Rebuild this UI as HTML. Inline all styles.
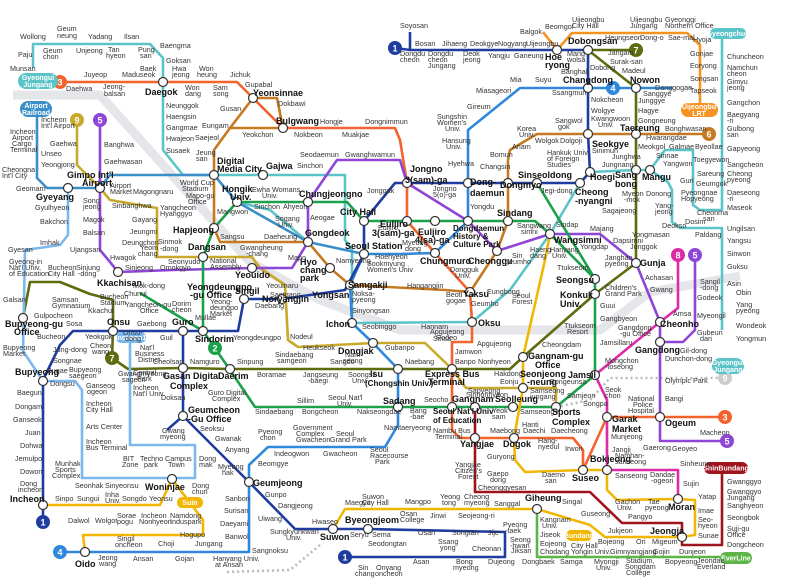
<!DOCTYPE html>
<html><head><meta charset="utf-8"><style>
html,body{margin:0;padding:0;background:#fff;width:800px;height:588px;overflow:hidden}
svg{display:block}
text{font-family:"Liberation Sans",sans-serif;fill:#333;font-size:7.2px}
.b{font-weight:bold;font-size:9px;fill:#111}
.w{fill:#fff;font-weight:bold;font-size:7px;text-anchor:middle}
.n{fill:#fff;font-weight:bold;font-size:9px;text-anchor:middle}
polyline{fill:none;stroke-width:2.6;stroke-linejoin:round}
.t{fill:#fff;stroke:#333;stroke-width:1.2}
</style></head><body>
<svg width="800" height="588" viewBox="0 0 800 588">
<polyline points="13,95 100,95 250,262 320,300 400,330 600,330 650,292 740,276" style="stroke:#e4e6ea;stroke-width:9"/>
<polyline stroke="#5bc4c8" points="33,68 33,44 150,44 163,58 163,150 183,175 214,175 263,175 345,175 345,240 352,250 352,323 472,322 510,290 550,234 580,183 590,172 636,170 650,170 668,182 672,190 672,222 680,228 722,228 722,330"/>
<polyline stroke="#5bc4c8" points="650,170 665,150 693,150 693,205 700,210 722,210 722,34"/>
<polyline stroke="#5bc4c8" points="237,202 270,210 308,242"/>
<polyline stroke="#3a8fc8" points="37,115 37,178 47,188 68,188 100,188 110,175 214,175 237,202 308,242 364,254"/>
<polyline stroke="#c9a92a" points="77,120 77,165 100,188 110,200 157,208 157,257 252,257 260,268 285,285 288,340 298,347 373,343 425,343 452,369 466,388 523,388 556,388 556,407"/>
<polyline stroke="#bbb" stroke-dasharray="2,3" points="556,407 590,400 610,378 725,378"/>
<polyline stroke="#c57a22" points="709,134 636,134 588,134 537,134 510,150 508,160 508,183 508,221 497,251 470,292 445,290 350,285 330,268 308,242 220,242 214,228 214,150 230,128 253,98 277,98 283,128 230,128"/>
<polyline stroke="#f4632d" points="60,82 163,82 237,82 253,98 283,128 395,128 400,140 407,183 407,221 435,253 470,292 472,322 472,342 452,342 452,369 452,407 452,430 460,438 514,438 573,438 583,450 583,470 607,417 660,417 725,417"/>
<polyline stroke="#2f88dc" points="673,88 636,88 588,88 520,88 468,130 468,183 468,221 435,253 400,254 364,254 350,285 352,323 373,343 398,369 398,407 398,425 385,447 268,447 249,465 249,552 85,552 60,552"/>
<polyline stroke="#8f45d6" points="100,120 100,250 110,262 118,272 173,270 252,268 292,268 308,242 308,202 337,160 400,160 407,183 468,221 497,251 550,234 600,234 636,263 660,322 660,342 660,441 727,441"/>
<polyline stroke="#8f45d6" points="660,342 683,342 695,330 695,255"/>
<polyline stroke="#dd2aa8" points="678,255 678,308 660,322 595,375 607,400 607,417 607,470 678,470 678,499"/>
<polyline stroke="#5f6b0f" points="636,50 588,50 636,88 636,170 636,263 595,294 523,357 510,369 452,369 398,369 230,369 183,368 128,369 112,358 113,331 113,300 90,294 60,282 30,282 23,318"/>
<polyline stroke="#1aa14a" points="364,221 407,221 468,221 508,221 535,221 550,234 595,279 595,375 556,407 513,407 475,407 398,407 255,407 230,370 203,331 203,257 214,228 237,202 308,202 347,202 364,221"/>
<polyline stroke="#1aa14a" points="537,183 595,279"/>
<polyline stroke="#1aa14a" points="203,331 140,293"/>
<polyline stroke="#1f3d9e" points="395,48 410,50 588,50 588,134 590,172 580,183 537,183 468,183 407,183 395,183 364,221 364,254 345,290 282,299 244,299 238,331 203,331 183,331 113,331 73,331 60,345 43,380 43,522"/>
<polyline stroke="#1f3d9e" points="410,50 410,32"/>
<polyline stroke="#1f3d9e" points="183,331 183,416 249,482 295,529 333,529 368,529 505,532 505,557 345,557"/>
<polyline stroke="#1f3d9e" points="183,416 167,430"/>
<polyline stroke="#f2b705" points="550,234 545,260 523,357 523,388 514,438 515,460 525,472 583,470 607,470 607,490 617,500 678,499 695,500 695,535 680,537 605,537 590,525 537,509 345,509 333,529"/>
<polyline stroke="#a0121c" points="475,407 475,492 590,492 622,523 682,523 682,545 722,545 722,468"/>
<polyline stroke="#5db548" points="537,509 537,557 720,557"/>
<polyline stroke="#f79322" points="543,32 557,50 572,33 687,33 700,45 700,108"/>
<polyline stroke="#7ab8ee" points="68,188 68,235 60,245 25,250 23,351 43,381 75,381 82,390 82,478 195,478 195,445 130,445 130,338"/>
<polyline stroke="#f2b705" points="43,505 160,505 172,479 203,520 203,535 83,535 85,552"/>
<polyline stroke="#bbb" stroke-dasharray="2,3" points="320,545 290,570 225,572"/>

<g>
<circle class="t" cx="163" cy="82" r="4.5"/><circle class="t" cx="253" cy="98" r="4.5"/><circle class="t" cx="283" cy="128" r="4.5"/>
<circle class="t" cx="214" cy="175" r="4.5"/><circle class="t" cx="263" cy="175" r="4.5"/><circle class="t" cx="68" cy="188" r="4.5"/>
<circle class="t" cx="100" cy="188" r="4.5"/><circle class="t" cx="237" cy="202" r="4.5"/><circle class="t" cx="308" cy="202" r="4.5"/>
<circle class="t" cx="214" cy="228" r="4.5"/><circle class="t" cx="308" cy="242" r="4.5"/><circle class="t" cx="364" cy="221" r="4.5"/>
<circle class="t" cx="364" cy="254" r="4.5"/><circle class="t" cx="203" cy="257" r="4.5"/><circle class="t" cx="252" cy="268" r="4.5"/>
<circle class="t" cx="330" cy="268" r="4.5"/><circle class="t" cx="350" cy="285" r="4.5"/><circle class="t" cx="118" cy="272" r="4.5"/>
<circle class="t" cx="407" cy="183" r="4.5"/><circle class="t" cx="468" cy="183" r="4.5"/><circle class="t" cx="508" cy="183" r="4.5"/>
<circle class="t" cx="537" cy="183" r="4.5"/><circle class="t" cx="580" cy="183" r="4.5"/><circle class="t" cx="590" cy="172" r="4.5"/>
<circle class="t" cx="407" cy="221" r="4.5"/><circle class="t" cx="435" cy="221" r="4.5"/><circle class="t" cx="468" cy="221" r="4.5"/>
<circle class="t" cx="508" cy="221" r="4.5"/><circle class="t" cx="435" cy="253" r="4.5"/><circle class="t" cx="497" cy="251" r="4.5"/>
<circle class="t" cx="550" cy="234" r="4.5"/><circle class="t" cx="470" cy="292" r="4.5"/><circle class="t" cx="595" cy="279" r="4.5"/>
<circle class="t" cx="595" cy="294" r="4.5"/><circle class="t" cx="636" cy="263" r="4.5"/><circle class="t" cx="588" cy="50" r="4.5"/>
<circle class="t" cx="557" cy="50" r="4.5"/><circle class="t" cx="588" cy="88" r="4.5"/><circle class="t" cx="636" cy="88" r="4.5"/>
<circle class="t" cx="588" cy="134" r="4.5"/><circle class="t" cx="636" cy="134" r="4.5"/><circle class="t" cx="636" cy="170" r="4.5"/>
<circle class="t" cx="650" cy="170" r="4.5"/><circle class="t" cx="352" cy="323" r="4.5"/><circle class="t" cx="472" cy="322" r="4.5"/>
<circle class="t" cx="373" cy="343" r="4.5"/><circle class="t" cx="282" cy="299" r="4.5"/><circle class="t" cx="244" cy="299" r="4.5"/>
<circle class="t" cx="203" cy="331" r="4.5"/><circle class="t" cx="183" cy="331" r="4.5"/><circle class="t" cx="113" cy="331" r="4.5"/>
<circle class="t" cx="23" cy="318" r="4.5"/><circle class="t" cx="43" cy="381" r="4.5"/><circle class="t" cx="183" cy="368" r="4.5"/>
<circle class="t" cx="230" cy="369" r="4.5"/><circle class="t" cx="398" cy="369" r="4.5"/><circle class="t" cx="452" cy="369" r="4.5"/>
<circle class="t" cx="523" cy="357" r="4.5"/><circle class="t" cx="523" cy="388" r="4.5"/><circle class="t" cx="595" cy="375" r="4.5"/>
<circle class="t" cx="660" cy="322" r="4.5"/><circle class="t" cx="660" cy="342" r="4.5"/><circle class="t" cx="183" cy="416" r="4.5"/>
<circle class="t" cx="398" cy="407" r="4.5"/><circle class="t" cx="452" cy="407" r="4.5"/><circle class="t" cx="475" cy="407" r="4.5"/>
<circle class="t" cx="513" cy="407" r="4.5"/><circle class="t" cx="556" cy="407" r="4.5"/><circle class="t" cx="607" cy="417" r="4.5"/>
<circle class="t" cx="660" cy="417" r="4.5"/><circle class="t" cx="475" cy="438" r="4.5"/><circle class="t" cx="514" cy="438" r="4.5"/>
<circle class="t" cx="583" cy="470" r="4.5"/><circle class="t" cx="607" cy="470" r="4.5"/><circle class="t" cx="678" cy="499" r="4.5"/>
<circle class="t" cx="682" cy="537" r="4.5"/><circle class="t" cx="537" cy="509" r="4.5"/><circle class="t" cx="249" cy="482" r="4.5"/>
<circle class="t" cx="172" cy="479" r="4.5"/><circle class="t" cx="43" cy="505" r="4.5"/><circle class="t" cx="85" cy="552" r="4.5"/>
<circle class="t" cx="333" cy="529" r="4.5"/><circle class="t" cx="368" cy="529" r="4.5"/>
</g>

<circle cx="395" cy="48" r="7" fill="#1f3d9e"/><text class="n" x="395" y="51.5">1</text>
<circle cx="60" cy="82" r="7" fill="#f4632d"/><text class="n" x="60" y="85.5">3</text>
<circle cx="77" cy="120" r="7" fill="#c9a92a"/><text class="n" x="77" y="123.5">9</text>
<circle cx="100" cy="120" r="7" fill="#8f45d6"/><text class="n" x="100" y="123.5">5</text>
<circle cx="636" cy="50" r="7" fill="#5f6b0f"/><text class="n" x="636" y="53.5">7</text>
<circle cx="613" cy="88" r="7" fill="#2f88dc"/><text class="n" x="613" y="91.5">4</text>
<circle cx="709" cy="134" r="7" fill="#c57a22"/><text class="n" x="709" y="137.5">6</text>
<circle cx="678" cy="255" r="7" fill="#dd2aa8"/><text class="n" x="678" y="258.5">8</text>
<circle cx="695" cy="255" r="7" fill="#8f45d6"/><text class="n" x="695" y="258.5">5</text>
<circle cx="725" cy="417" r="7" fill="#f4632d"/><text class="n" x="725" y="420.5">3</text>
<circle cx="727" cy="441" r="7" fill="#8f45d6"/><text class="n" x="727" y="444.5">5</text>
<circle cx="725" cy="378" r="7" fill="#ccc"/><text class="n" x="725" y="381.5">9</text>
<circle cx="43" cy="522" r="7" fill="#1f3d9e"/><text class="n" x="43" y="525.5">1</text>
<circle cx="60" cy="552" r="7" fill="#2f88dc"/><text class="n" x="60" y="555.5">4</text>
<circle cx="112" cy="358" r="7" fill="#5f6b0f"/><text class="n" x="112" y="361.5">7</text>
<circle cx="215" cy="348" r="7" fill="#1aa14a"/><text class="n" x="215" y="351.5">2</text>
<circle cx="345" cy="557" r="7" fill="#1f3d9e"/><text class="n" x="345" y="560.5">1</text>
<rect x="18" y="73" width="40" height="16" rx="8" fill="#5bc4c8"/><text class="w" x="38" y="80">Gyeongui</text><text class="w" x="38" y="87">Jungang</text>
<rect x="20" y="101" width="32" height="16" rx="8" fill="#3a8fc8"/><text class="w" x="36" y="108">Airport</text><text class="w" x="36" y="115">Railroad</text>
<rect x="681" y="103" width="37" height="14" rx="7" fill="#f79322"/><text class="w" x="699" y="109">Uijeongbu</text><text class="w" x="699" y="116">LRT</text>
<rect x="710" y="28" width="36" height="11" rx="5" fill="#5bc4c8"/><text class="w" x="728" y="36">Gyeongchun</text>
<rect x="712" y="358" width="32" height="16" rx="8" fill="#5bc4c8"/><text class="w" x="728" y="365">Gyeongui</text><text class="w" x="728" y="372">Jungang</text>
<rect x="704" y="462" width="44" height="12" rx="6" fill="#a0121c"/><text class="w" x="726" y="470.5">ShinBundang</text>
<rect x="720" y="552" width="32" height="12" rx="6" fill="#5db548"/><text class="w" x="736" y="560.5">EverLine</text>
<rect x="566" y="530" width="26" height="11" rx="5" fill="#f2b705"/><text class="w" x="579" y="538">Bundang</text>
<rect x="177" y="497" width="26" height="11" rx="5" fill="#f2b705"/><text class="w" x="190" y="505">Suin</text>
<rect x="116" y="332" width="30" height="11" rx="5" fill="#7ab8ee"/><text class="w" x="131" y="340">Incheon1</text>

<g>
<text class="b" x="145" y="95">Daegok</text><text class="b" x="253" y="96">Yeonsinnae</text><text class="b" x="276" y="124">Bulgwang</text>
<text class="b" x="217" y="164">Digital</text><text class="b" x="217" y="172">Media City</text><text class="b" x="266" y="169">Gajwa</text>
<text class="b" x="36" y="200">Gyeyang</text><text class="b" x="67" y="178">Gimpo Int'l</text><text class="b" x="82" y="186">Airport</text>
<text class="b" x="222" y="192">Hongik</text><text class="b" x="230" y="200">Univ.</text><text class="b" x="299" y="197">Chungjeongno</text>
<text class="b" x="173" y="233">Hapjeong</text><text class="b" x="305" y="236">Gongdeok</text><text class="b" x="340" y="215">City Hall</text>
<text class="b" x="345" y="249">Seoul Station</text><text class="b" x="188" y="250">Dangsan</text><text class="b" x="235" y="278">Yeouido</text>
<text class="b" x="300" y="265">Hyo</text><text class="b" x="300" y="273">chang</text><text class="b" x="300" y="281">park</text>
<text class="b" x="348" y="288">Samgakji</text><text class="b" x="312" y="298">Yongsan</text><text class="b" x="97" y="286">Kkachisan</text>
<text class="b" x="187" y="290">Yeongdeungpo</text><text class="b" x="190" y="298">-gu Office</text><text class="b" x="235" y="294">Singil</text>
<text class="b" x="410" y="172">Jongno</text><text class="b" x="405" y="183">3(sam)-ga</text><text class="b" x="470" y="185">Dong-</text><text class="b" x="470" y="196">daemun</text>
<text class="b" x="500" y="188">Dongmyo</text><text class="b" x="518" y="178">Sinseoldong</text><text class="b" x="590" y="180">Hoegi</text>
<text class="b" x="575" y="195">Cheong</text><text class="b" x="575" y="204">-nyangni</text><text class="b" x="615" y="178">Sang</text><text class="b" x="615" y="187">bong</text>
<text class="b" x="642" y="180">Mangu</text><text class="b" x="545" y="60">Hoe</text><text class="b" x="545" y="68">ryong</text>
<text class="b" x="568" y="44">Dobongsan</text><text class="b" x="563" y="83">Changdong</text><text class="b" x="630" y="83">Nowon</text>
<text class="b" x="620" y="131">Taereung</text><text class="b" x="592" y="147">Seokgye</text><text class="b" x="497" y="216">Sindang</text>
<text class="b" x="380" y="227">Euljiro</text><text class="b" x="372" y="236">3(sam)-ga</text><text class="b" x="418" y="235">Euljiro</text><text class="b" x="415" y="243">4(sa)-ga</text>
<text class="b" x="453" y="231" style="font-size:8px">Dongdaemun</text><text class="b" x="453" y="239" style="font-size:8px">History &amp;</text><text class="b" x="453" y="247" style="font-size:8px">Culture Park</text>
<text class="b" x="554" y="243">Wangsimni</text><text class="b" x="420" y="264">Chungmuro</text><text class="b" x="468" y="264">Cheonggu</text>
<text class="b" x="640" y="266">Gunja</text><text class="b" x="556" y="283">Seongsu</text><text class="b" x="560" y="298">Konkuk</text>
<text class="b" x="560" y="307">Univ.</text><text class="b" x="463" y="297">Yaksu</text><text class="b" x="478" y="326">Oksu</text><text class="b" x="326" y="327">Ichon</text>
<text class="b" x="262" y="302">Noryangjin</text><text class="b" x="5" y="327">Bupyeong-gu</text><text class="b" x="14" y="335">Office</text>
<text class="b" x="107" y="325">Onsu</text><text class="b" x="172" y="325">Guro</text><text class="b" x="195" y="342">Sindorim</text>
<text class="b" x="338" y="354">Dongjak</text><text class="b" x="15" y="375">Bupyeong</text><text class="b" x="163" y="379">Gasan Digital</text><text class="b" x="170" y="389">Complex</text>
<text class="b" x="218" y="379">Daerim</text><text class="b" x="370" y="377">Isu</text><text class="b" x="365" y="386" style="font-size:8px">(Chongshin Univ.)</text>
<text class="b" x="188" y="413">Geumcheon</text><text class="b" x="188" y="422">-Gu Office</text><text class="b" x="383" y="404">Sadang</text>
<text class="b" x="10" y="502">Incheon</text><text class="b" x="145" y="490">Woninjae</text><text class="b" x="253" y="486">Geumjeong</text>
<text class="b" x="345" y="523">Byeongjeom</text><text class="b" x="320" y="540">Suwon</text><text class="b" x="75" y="567">Oido</text>
<text class="b" x="660" y="327">Cheonho</text><text class="b" x="635" y="353">Gangdong</text><text class="b" x="528" y="359">Gangnam-gu</text><text class="b" x="535" y="368">Office</text>
<text class="b" x="425" y="377">Express Bus</text><text class="b" x="428" y="385">Terminal</text><text class="b" x="520" y="377">Seonjeong</text><text class="b" x="527" y="385">-neung</text>
<text class="b" x="568" y="378">Jamsil</text><text class="b" x="452" y="402">Gangnam</text><text class="b" x="495" y="402">Seolleung</text>
<text class="b" x="552" y="415">Sports</text><text class="b" x="552" y="425">Complex</text><text class="b" x="612" y="422">Garak</text><text class="b" x="612" y="432">Market</text>
<text class="b" x="665" y="426">Ogeum</text><text class="b" x="433" y="414" style="font-size:8px">Seoul Nat'l Univ</text><text class="b" x="433" y="423" style="font-size:8px">of Education</text>
<text class="b" x="460" y="447">Yangjae</text><text class="b" x="503" y="447">Dogok</text><text class="b" x="590" y="462">Bokjeong</text>
<text class="b" x="572" y="481">Suseo</text><text class="b" x="668" y="510">Moran</text><text class="b" x="525" y="501">Giheung</text><text class="b" x="650" y="534">Jeongja</text>
</g>

<g>
<text x="20" y="39">Wollong</text><text x="57" y="31">Geum</text><text x="57" y="38">neung</text><text x="88" y="39">Yadang</text><text x="124" y="39">Ilsan</text>
<text x="160" y="48">Baengma</text><text x="18" y="57">Paju</text><text x="10" y="71">Munsan</text><text x="43" y="53">Geum</text><text x="43" y="59">chon</text>
<text x="76" y="53">Unjeong</text><text x="108" y="52">Tan</text><text x="106" y="58">hyeon</text><text x="138" y="52">Pung</text><text x="140" y="58">san</text>
<text x="166" y="63">Goksan</text><text x="84" y="77">Juyeop</text><text x="122" y="77">Madu</text><text x="140" y="71">Baek</text><text x="140" y="77">seok</text>
<text x="172" y="71">Hwa</text><text x="172" y="77">jeong</text><text x="199" y="71">Won</text><text x="197" y="77">heung</text><text x="230" y="77">Jichuk</text>
<text x="66" y="91">Daehwa</text><text x="103" y="89">Jeong-</text><text x="104" y="96">balsan</text><text x="185" y="90">Won</text><text x="185" y="96">dang</text>
<text x="213" y="90">Sam</text><text x="213" y="96">song</text><text x="245" y="87">Gupabal</text><text x="278" y="106">Dokbawi</text><text x="220" y="111">Gusan</text>
<text x="320" y="124">Hongje</text><text x="365" y="124">Dongnimmun</text><text x="202" y="128">Eungam</text><text x="242" y="137">Yeokchon</text>
<text x="294" y="137">Nokbeon</text><text x="342" y="137">Muakjae</text><text x="195" y="140">Saejeol</text><text x="166" y="108">Neunggok</text>
<text x="166" y="119">Haengsin</text><text x="166" y="130">Gangmae</text><text x="166" y="141">Hwajeon</text><text x="166" y="153">Susaek</text>
<text x="196" y="155">Jeung</text><text x="196" y="161">san</text><text x="297" y="168">Sinchon</text><text x="300" y="157">Seodaemun</text><text x="345" y="157">Gwanghwamun</text>
<text x="104" y="147">Banghwa</text><text x="104" y="164">Gaehwasan</text><text x="50" y="146">Gaehwa</text><text x="41" y="122">Incheon</text><text x="41" y="128">Int'l Airport</text>
<text x="10" y="134">Incheon</text><text x="12" y="140">Airport</text><text x="12" y="146">Cargo</text><text x="10" y="152">Terminal</text><text x="41" y="156">Unseo</text>
<text x="41" y="167">Yeongjong</text><text x="2" y="172">Cheongna</text><text x="2" y="178">Int'l City</text><text x="16" y="191">Geomam</text>
<text x="110" y="188">Airport</text><text x="110" y="194">Market</text><text x="133" y="194">Magongnaru</text><text x="83" y="203">Song</text><text x="83" y="209">jeong</text>
<text x="112" y="208">Sinbanghwa</text><text x="160" y="210">Yangcheon</text><text x="160" y="216">Hyanggyo</text><text x="35" y="210">Gyulhyeon</text>
<text x="83" y="222">Magok</text><text x="132" y="222">Gayang</text><text x="40" y="224">Bakchon</text><text x="83" y="235">Balsan</text><text x="130" y="234">Jeungmi</text>
<text x="40" y="245">Imhak</text><text x="122" y="245">Deungchon</text><text x="8" y="252">Gyesan</text><text x="70" y="252">Ujangsan</text>
<text x="158" y="244">Sinmok</text><text x="160" y="251">-dong</text><text x="140" y="250">Yeom</text><text x="138" y="256">chang</text><text x="168" y="264">Seonyudo</text>
<text x="210" y="263">National</text><text x="210" y="269">Assembly</text><text x="9" y="264">Gyeong-in</text><text x="9" y="270">Nat'l Univ.</text><text x="9" y="276">of Education</text>
<text x="110" y="260">Hwagok</text><text x="125" y="270">Sinjeong</text><text x="160" y="270">Omokgyo</text><text x="266" y="288">Yeouinaru</text>
<text x="270" y="297">Saetgang</text><text x="288" y="260">Mapo</text><text x="336" y="263">Namyeong</text><text x="367" y="266">Sookmyung</text><text x="367" y="272">Women's Univ</text>
<text x="375" y="259">Hoehyeon</text><text x="367" y="193">Jonggak</text><text x="310" y="220">Aeogae</text><text x="252" y="192">Ewha Womans</text><text x="262" y="198">Univ.</text>
<text x="254" y="209">Sinchon</text><text x="283" y="209">Ahyeon</text><text x="275" y="221">Sogang</text><text x="278" y="227">Univ.</text><text x="220" y="239">Sangsu</text>
<text x="264" y="239">Daeheung</text><text x="240" y="250">Gwangheung</text><text x="246" y="256">-chang</text><text x="217" y="214">Mangwon</text>
<text x="180" y="185">World Cup</text><text x="182" y="191">Stadium</text><text x="186" y="198">Mapo-gu</text><text x="188" y="204">Office</text>
<text x="378" y="230">Euljiro</text><text x="48" y="270">Bucheon</text><text x="48" y="276">City Hall</text><text x="76" y="270">Sinjung</text><text x="78" y="276">-dong</text>
<text x="133" y="288">Mok-dong</text><text x="124" y="296">Chunui</text>
<text x="400" y="28">Soyosan</text><text x="415" y="46">Bosan</text><text x="442" y="46">Jihaeng</text><text x="470" y="46">Deokgye</text><text x="498" y="46">Nogyang</text>
<text x="526" y="46">Uijeongbu</text><text x="400" y="56">Dongdu</text><text x="400" y="62">cheon</text><text x="428" y="56">Dongdu</text><text x="428" y="62">cheon</text><text x="428" y="68">Jungang</text>
<text x="463" y="56">Deok</text><text x="463" y="62">jeong</text><text x="488" y="58">Yangju</text><text x="514" y="58">Ganeung</text><text x="567" y="56">Mang</text><text x="567" y="62">wolsa</text>
<text x="520" y="34">Balgok</text><text x="545" y="29">Beomgol</text><text x="572" y="22">Uijeongbu</text><text x="572" y="28">City Hall</text><text x="630" y="22">Uijeongbu</text><text x="630" y="28">Jungang</text>
<text x="665" y="22">Gyeonggi</text><text x="665" y="28">Northern Office</text><text x="605" y="40">Heungseon</text><text x="640" y="40">Dong-o</text><text x="668" y="40">Sae-mal</text>
<text x="693" y="42">Hyoja</text><text x="690" y="56">Gonjae</text><text x="690" y="68">Eoryong</text><text x="690" y="81">Songsan</text><text x="690" y="93">Tapseok</text>
<text x="561" y="74">Banghak</text><text x="590" y="70">Dobong</text><text x="608" y="55">Jangam</text><text x="610" y="64">Surak-san</text><text x="622" y="73">Madeul</text>
<text x="655" y="90">Danggogae</text><text x="510" y="82">Mia</text><text x="535" y="82">Suyu</text><text x="552" y="95">Ssangmun</text><text x="476" y="93">Miasageori</text>
<text x="643" y="96">Sanggye</text><text x="467" y="109">Gireum</text><text x="591" y="102">Nokcheon</text><text x="638" y="103">Junggye</text><text x="591" y="113">Wolgye</text>
<text x="638" y="113">Hagye</text><text x="591" y="121">Kwangwoon</text><text x="598" y="127">Univ.</text><text x="638" y="123">Gongneung</text><text x="437" y="119">Sungshin</text>
<text x="437" y="125">Women's</text><text x="445" y="131">Univ.</text><text x="555" y="123">Sangwol</text><text x="558" y="129">gok</text><text x="665" y="131">Bonghwasan</text>
<text x="517" y="131">Korea</text><text x="519" y="137">Univ.</text><text x="535" y="143">Wolgok</text><text x="560" y="143">Dolgoji</text><text x="646" y="140">Hwarangdae</text>
<text x="442" y="143">Hansung</text><text x="446" y="149">Univ.</text><text x="512" y="149">Anam</text><text x="592" y="153">Sinimun</text><text x="638" y="149">Meokgol</text>
<text x="669" y="149">Galmae</text><text x="695" y="149">Byeollae</text><text x="490" y="157">Bomun</text><text x="448" y="166">Hyehwa</text><text x="547" y="155">Hankuk Univ.</text>
<text x="547" y="161">of Foreign</text><text x="547" y="167">Studies</text><text x="612" y="159">Junghwa</text><text x="656" y="158">Sinnae</text><text x="693" y="162">Toegyewon</text>
<text x="480" y="169">Changsin</text><text x="602" y="167">Jungnang</text><text x="663" y="166">Yangwon</text><text x="697" y="176">Sareung</text><text x="680" y="183">Guri</text>
<text x="433" y="191">Jongno</text><text x="433" y="197">5(o)-ga</text><text x="541" y="193">Jegi-dong</text><text x="622" y="196">Myeon</text><text x="624" y="202">-mok</text>
<text x="646" y="196">Donong</text><text x="696" y="186">Geumgok</text><text x="681" y="195">Pyeongnae</text><text x="681" y="201">Hopyeong</text><text x="470" y="209">Yongdu</text>
<text x="655" y="208">Yang-</text><text x="655" y="214">jeong</text><text x="602" y="213">Sagajeong</text><text x="697" y="215">Cheonma</text><text x="703" y="221">san</text>
<text x="685" y="224">Dosim</text><text x="662" y="228">Deokso</text><text x="695" y="237">Paldang</text><text x="556" y="227">Sindap</text><text x="590" y="231">Majang</text>
<text x="632" y="237">Yongmasan</text><text x="613" y="243">Dapsimni</text><text x="517" y="228">Sangwang</text><text x="521" y="234">simni</text><text x="402" y="245">Myeong</text>
<text x="405" y="251">dong</text><text x="580" y="249">Yongdap</text><text x="630" y="249">Junggok</text><text x="530" y="252">Haeng</text><text x="530" y="258">dang</text>
<text x="550" y="252">Hanyang</text><text x="552" y="258">Univ.</text><text x="512" y="258">Sin</text><text x="505" y="264">geumho</text><text x="605" y="260">Janghan</text>
<text x="605" y="266">pyeong</text><text x="450" y="272">Dongguk</text><text x="455" y="278">Univ.</text><text x="557" y="270">Ttukseom</text><text x="645" y="280">Achasan</text>
<text x="650" y="292">Gwang</text><text x="700" y="284">Sangil</text><text x="700" y="290">-dong</text><text x="407" y="288">Hangangjin</text><text x="487" y="294">Eungbong</text>
<text x="605" y="290">Children's</text><text x="605" y="296">Grand Park</text>
<text x="727" y="59">Chuncheon</text><text x="727" y="70">Namchun</text><text x="727" y="76">cheon</text><text x="727" y="84">Gimyu</text><text x="727" y="90">jeong</text>
<text x="727" y="105">Gangchon</text><text x="727" y="117">Baegyang</text><text x="727" y="123">-ri</text><text x="727" y="131">Gulbong</text><text x="727" y="137">san</text>
<text x="727" y="151">Gapyeong</text><text x="727" y="167">Sangcheon</text><text x="727" y="176">Cheong</text><text x="727" y="182">pyeong</text><text x="727" y="195">Daeseong</text>
<text x="727" y="201">-ri</text><text x="727" y="210">Maseok</text><text x="727" y="231">Ungilsan</text><text x="727" y="243">Yangsu</text><text x="727" y="256">Sinwon</text>
<text x="727" y="269">Guksu</text><text x="727" y="286">Asin</text>
<text x="3" y="302">Galsan</text><text x="52" y="302">Samsan</text><text x="52" y="308">Gymnasium</text><text x="100" y="299">Bucheon</text><text x="100" y="305">Stadium</text>
<text x="125" y="307">Yangcheon-gu</text><text x="140" y="313">Office</text><text x="172" y="306">Dorim</text><text x="172" y="312">cheon</text><text x="210" y="304">Yeong-</text>
<text x="210" y="310">deungpo</text><text x="210" y="316">Market</text><text x="255" y="308">Daebang</text><text x="352" y="296">Noksa-</text><text x="352" y="302">pyeong</text>
<text x="352" y="313">Sinyongsan</text><text x="362" y="329">Seobinggo</text><text x="34" y="318">Gulpocheon</text><text x="88" y="313">Kkachul</text><text x="195" y="320">Mullae</text>
<text x="66" y="326">Sosa</text><text x="137" y="326">Gaebong</text><text x="37" y="339">Bucheon</text><text x="85" y="339">Yeokgok</text><text x="123" y="335">Onsu-</text>
<text x="125" y="341">dong</text><text x="160" y="340">Guil</text><text x="233" y="340">Yeongdeungpo</text><text x="290" y="339">Nodeul</text><text x="53" y="352">Jung-dong</text>
<text x="90" y="348">Cheon</text><text x="92" y="354">wang</text><text x="3" y="350">Bupyeong</text><text x="3" y="356">Market</text><text x="303" y="350">Heukseok</text>
<text x="385" y="350">Gubanpo</text><text x="53" y="363">Songnae</text><text x="47" y="373">Bugae</text><text x="69" y="372">Bupyeong</text><text x="69" y="378">saegeori</text>
<text x="153" y="364">Cheolsan</text><text x="190" y="364">Namguro</text><text x="237" y="364">Sinpung</text><text x="275" y="357">Sindaebang</text><text x="277" y="363">samgeori</text>
<text x="330" y="364">Sangdo</text><text x="345" y="357">Nam</text><text x="343" y="363">seong</text><text x="118" y="376">Gwangmyeong</text><text x="122" y="382">sageori</text>
<text x="257" y="377">Boramae</text><text x="303" y="377">Jangseung</text><text x="308" y="383">-baegi</text><text x="348" y="377">Soongsil</text><text x="352" y="383">Univ.</text>
<text x="50" y="386">Dongsu</text><text x="86" y="388">Ganseog</text><text x="87" y="394">ogeori</text><text x="17" y="395">Baegun</text><text x="15" y="409">Dongam</text>
<text x="13" y="422">Ganseok</text><text x="25" y="435">Juan</text><text x="20" y="448">Dohwa</text><text x="15" y="461">Jemulpo</text><text x="20" y="474">Dowon</text>
<text x="20" y="486">Dong</text><text x="18" y="492">incheon</text><text x="86" y="406">Incheon</text><text x="86" y="412">City Hall</text><text x="86" y="429">Arts Center</text>
<text x="86" y="444">Incheon</text><text x="86" y="450">Bus Terminal</text><text x="55" y="466">Munhak</text><text x="55" y="472">Sports</text><text x="52" y="478">Complex</text>
<text x="140" y="350">Nat'l</text><text x="135" y="356">Business</text><text x="138" y="362">District</text><text x="133" y="375">Central</text><text x="137" y="381">Park</text>
<text x="133" y="390">Incheon</text><text x="133" y="396">Nat'l Univ.</text><text x="161" y="400">Doksan</text><text x="208" y="395">Guro Digital</text><text x="212" y="401">Complex</text>
<text x="255" y="414">Sindaebang</text><text x="302" y="414">Bongcheon</text><text x="297" y="403">Sillim</text><text x="328" y="400">Seoul Nat'l</text><text x="337" y="406">Univ.</text>
<text x="357" y="414">Nakseongdae</text><text x="200" y="431">Seoksu</text><text x="162" y="433">Gwang</text><text x="160" y="439">myeong</text><text x="215" y="441">Gwanak</text>
<text x="225" y="452">Anyang</text><text x="258" y="434">Pyeong</text><text x="260" y="440">chon</text><text x="293" y="430">Government</text><text x="296" y="436">Complex</text>
<text x="296" y="442">Gwacheon</text><text x="336" y="436">Seoul</text><text x="330" y="442">Grand Park</text><text x="274" y="456">Indeogwon</text><text x="323" y="456">Gwacheon</text>
<text x="370" y="452">Seoul</text><text x="370" y="458">Racecourse</text><text x="375" y="464">Park</text><text x="384" y="430">Namtaeryeong</text><text x="123" y="461">BIT</text>
<text x="122" y="467">Zone</text><text x="140" y="461">Techno</text><text x="144" y="467">park</text><text x="165" y="461">Campus</text><text x="168" y="467">Town</text>
<text x="199" y="461">Dong</text><text x="199" y="467">mak</text><text x="218" y="469">Myeong</text><text x="222" y="475">hak</text><text x="258" y="466">Beomgye</text>
<text x="75" y="488">Seonhak</text><text x="105" y="488">Sinyeonsu</text><text x="192" y="488">Dong</text><text x="192" y="494">chun</text><text x="55" y="501">Sinpo</text>
<text x="77" y="501">Sungui</text><text x="105" y="497">Inha</text><text x="105" y="503">Univ.</text><text x="122" y="501">Songdo</text><text x="149" y="501">Yeonsu</text>
<text x="225" y="501">Sanbon</text><text x="265" y="497">Gunpo</text><text x="278" y="508">Dangjeong</text><text x="224" y="513">Surisan</text><text x="68" y="523">Dalwol</text>
<text x="95" y="523">Wolgot</text><text x="117" y="518">Sorae</text><text x="117" y="524">pogu</text><text x="141" y="518">Incheon</text><text x="139" y="524">Nonhyeon</text>
<text x="170" y="518">Namdong</text><text x="170" y="524">Induspark</text><text x="258" y="521">Uiwang</text><text x="220" y="526">Daeyami</text><text x="312" y="524">Hwaseo</text>
<text x="180" y="537">Hogupo</text><text x="270" y="534">Sungkyunkwan</text><text x="286" y="540">Univ.</text><text x="350" y="537">Seryu</text><text x="372" y="537">Sema</text>
<text x="368" y="546">Seodongtan</text><text x="225" y="539">Banwol</text><text x="117" y="541">Singil</text><text x="115" y="547">oncheon</text><text x="158" y="546">Choji</text>
<text x="195" y="546">Jungang</text><text x="252" y="553">Sangnoksu</text><text x="98" y="560">Jeong</text><text x="99" y="566">wang</text><text x="133" y="561">Ansan</text>
<text x="175" y="561">Gojan</text><text x="213" y="561">Hanyang Univ.</text><text x="215" y="567">at Ansan</text><text x="358" y="570">Sin</text><text x="355" y="576">chang</text>
<text x="376" y="570">Onyang</text><text x="375" y="576">oncheon</text>
<text x="446" y="297">Beoti</text><text x="446" y="303">gogae</text><text x="471" y="306">Geumho</text><text x="512" y="298">Seoul</text><text x="512" y="304">Forest</text>
<text x="600" y="308">Guui</text><text x="600" y="321">Gangbyeon</text><text x="421" y="329">Hannam</text><text x="430" y="334">Apgujeong</text><text x="436" y="340">Rodeo</text>
<text x="564" y="328">Ttukseom</text><text x="567" y="334">Resort</text><text x="618" y="330">Gangdong</text><text x="620" y="336">-gu Office</text><text x="673" y="316">Amsa</text>
<text x="697" y="300">Godeok</text><text x="697" y="318">Myeongil</text><text x="697" y="335">Gubeun</text><text x="700" y="341">dari</text><text x="433" y="341">Sinsa</text>
<text x="477" y="346">Apgujeong</text><text x="542" y="347">Cheongdam</text><text x="600" y="345">Jamsillaru</text><text x="680" y="353">Gil-dong</text><text x="455" y="354">Jamwon</text>
<text x="605" y="363">Mongchon</text><text x="605" y="369">-toseong</text><text x="665" y="361">Dunchon-dong</text><text x="455" y="364">Banpo</text><text x="478" y="364">Nonhyeon</text>
<text x="405" y="364">Naebang</text><text x="494" y="376">Hakdong</text><text x="665" y="383">Olympic Park</text><text x="468" y="393">Sapyeong</text><text x="500" y="384">Eonju</text>
<text x="550" y="384">Bongeunsa</text><text x="530" y="393">Samseong</text><text x="530" y="399">jungang</text><text x="605" y="392">Seok</text><text x="605" y="398">chon</text>
<text x="466" y="397">Sinnonhyeon</text><text x="567" y="398">Samjeon</text><text x="583" y="406">Songpa</text><text x="628" y="401">National</text><text x="633" y="407">Police</text>
<text x="628" y="413">Hospital</text><text x="665" y="401">Bangi</text><text x="424" y="402">Seocho</text><text x="520" y="414">Samseong</text><text x="410" y="413">Bang</text>
<text x="410" y="419">-bae</text><text x="492" y="413">Yeok</text><text x="492" y="419">sam</text><text x="522" y="427">Hanti</text><text x="433" y="433">Nambu Bus</text>
<text x="435" y="439">Terminal</text><text x="490" y="433">Maebong</text><text x="523" y="433">Daechi</text><text x="551" y="433">Daecheong</text><text x="611" y="439">Munjeong</text>
<text x="700" y="435">Macheon</text><text x="538" y="443">Hang-</text><text x="538" y="449">nyeoul</text><text x="565" y="451">Irwon</text><text x="612" y="452">Jangji</text>
<text x="643" y="450">Gaerong</text><text x="672" y="451">Geoyeo</text><text x="487" y="459">Guryong</text><text x="615" y="458">Namhan-</text><text x="615" y="464">sanseong</text>
<text x="680" y="466">Sinheung</text><text x="455" y="467">Yangjae</text><text x="455" y="473">Citizen's</text><text x="458" y="479">Forest</text><text x="487" y="476">Gaepo</text>
<text x="490" y="482">dong</text><text x="542" y="477">Daemo</text><text x="545" y="483">san</text><text x="615" y="478">Sanseong</text><text x="650" y="477">Dandae</text>
<text x="651" y="483">-ogeori</text><text x="683" y="486">Sujin</text><text x="478" y="490">Cheonggyesan</text><text x="615" y="504">Gachon</text><text x="617" y="510">Univ.</text>
<text x="648" y="504">Tae</text><text x="645" y="510">pyeong</text><text x="698" y="499">Yatap</text><text x="698" y="513">Imae</text><text x="698" y="522">Seo-</text>
<text x="698" y="528">hyeon</text><text x="698" y="538">Sunae</text><text x="628" y="519">Pangyo</text><text x="581" y="516">Guseong</text><text x="562" y="504">Singal</text>
<text x="540" y="522">Kangnam</text><text x="542" y="528">Univ.</text><text x="608" y="533">Jukjeon</text><text x="540" y="537">Jiseok</text><text x="540" y="546">Eojeong</text>
<text x="598" y="544">Bojeong</text><text x="636" y="544">Ori</text><text x="652" y="544">Migeum</text><text x="571" y="548">City Hall</text><text x="571" y="554">Yongin Univ.</text>
<text x="540" y="554">Chodang</text><text x="610" y="554">Gimnyangjang</text><text x="653" y="554">Gojin</text><text x="679" y="554">Dunjeon</text><text x="522" y="564">Dongbaek</text>
<text x="560" y="564">Samga</text><text x="594" y="564">Myongji</text><text x="596" y="570">Univ.</text><text x="626" y="563">Stadium,</text><text x="625" y="569">Songdam</text>
<text x="626" y="575">College</text><text x="665" y="564">Bopyeong</text><text x="697" y="563">Jeondae</text><text x="697" y="569">Everland</text><text x="736" y="295">Obin</text>
<text x="736" y="307">Yang</text><text x="736" y="313">pyeong</text><text x="736" y="328">Wondeok</text><text x="736" y="341">Yongmun</text><text x="727" y="484">Gwanggyo</text>
<text x="727" y="494">Gwanggyo</text><text x="727" y="500">Jungang</text><text x="727" y="508">Sanghyeon</text><text x="727" y="520">Seongbok</text><text x="727" y="531">Suji-gu</text>
<text x="727" y="537">Office</text><text x="727" y="547">Dongcheon</text><text x="405" y="504">Mangpo</text><text x="440" y="499">Yeong</text><text x="442" y="505">tong</text>
<text x="464" y="499">Cheong</text><text x="464" y="505">myeong</text><text x="494" y="506">Sanggal</text><text x="345" y="505">Maegyo</text><text x="362" y="499">Suwon</text>
<text x="362" y="505">City Hall</text><text x="400" y="516">Osan</text><text x="400" y="522">College</text><text x="430" y="518">Jinwi</text><text x="458" y="518">Seojeong-ri</text>
<text x="503" y="527">Pyeong</text><text x="505" y="533">-taek</text><text x="418" y="535">Osan</text><text x="452" y="535">Songtan</text><text x="488" y="535">Jije</text>
<text x="510" y="542">Seong</text><text x="510" y="548">-hwan</text><text x="511" y="553">Jiksan</text><text x="438" y="544">Ssang</text><text x="440" y="550">yong</text>
<text x="472" y="551">Cheonan</text><text x="413" y="564">Asan</text><text x="456" y="564">Bong</text><text x="453" y="570">myeong</text><text x="488" y="564">Dujeong</text>
</g>
</svg>
</body></html>
